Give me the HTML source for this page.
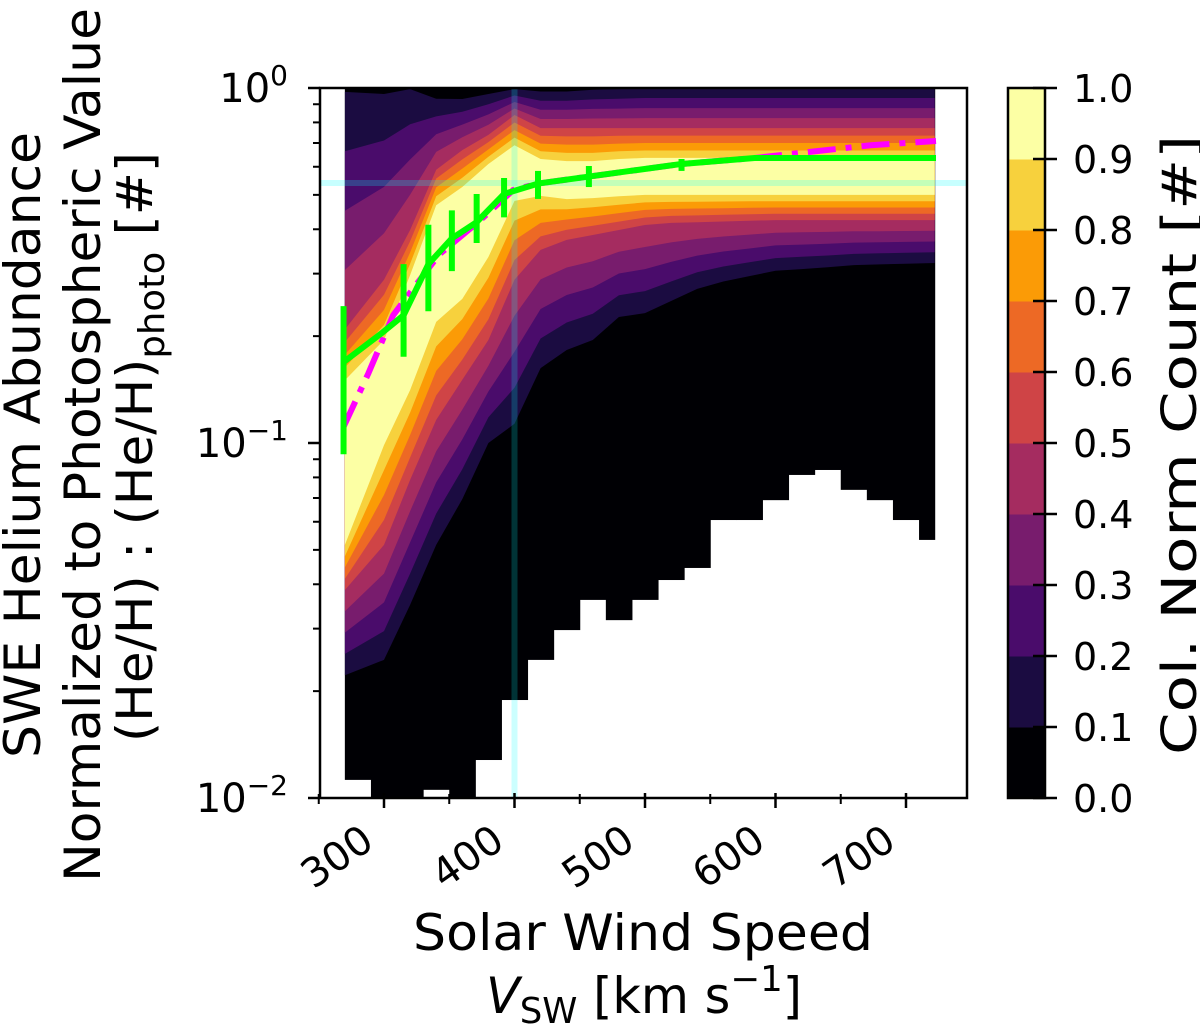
<!DOCTYPE html>
<html><head><meta charset="utf-8"><style>
html,body{margin:0;padding:0;background:#fff;}
svg{display:block;}
text{font-family:"DejaVu Sans","Liberation Sans",sans-serif;}
.lab{font-family:"DejaVu Sans Condensed","DejaVu Sans","Liberation Sans",sans-serif;}
</style></head><body>
<svg id="chart" width="1200" height="1026" viewBox="0 0 1200 1026" xmlns="http://www.w3.org/2000/svg">
<g id="plot"></g>
<g id="axes"></g>
<g id="cbar"></g>
<g class="lab" font-size="50">
<text class="lab" transform="translate(40,445) rotate(-90)" text-anchor="middle" textLength="626" lengthAdjust="spacingAndGlyphs">SWE Helium Abundance</text>
<text class="lab" transform="translate(100,445) rotate(-90)" text-anchor="middle" textLength="874" lengthAdjust="spacingAndGlyphs">Normalized to Photospheric Value</text>
<text class="lab" transform="translate(152,447) rotate(-90)" text-anchor="middle" font-size="50" textLength="590" lengthAdjust="spacingAndGlyphs">(He/H) : (He/H)<tspan font-size="36" dy="12">photo</tspan><tspan dy="-12"> [#]</tspan></text>
</g>
<g font-size="50">
<text class="lab" x="643" y="950" text-anchor="middle" textLength="460" lengthAdjust="spacingAndGlyphs">Solar Wind Speed</text>
<text class="lab" x="644" y="1013" text-anchor="middle" font-size="50" textLength="316" lengthAdjust="spacingAndGlyphs"><tspan font-style="italic">V</tspan><tspan font-size="36" dy="10">SW</tspan><tspan dy="-10"> [km s</tspan><tspan font-size="36" dy="-22">−1</tspan><tspan dy="22">]</tspan></text>
</g>
<text class="lab" transform="translate(1196,445) rotate(-90)" text-anchor="middle" font-size="48" textLength="620" lengthAdjust="spacingAndGlyphs">Col. Norm Count [#]</text>
</svg>
<script>
// ---- data ----
const speeds = [280,300,320,340,360,380,400,420,440,460,480,500,520,540,560,580,600,620,640,660,680,700,720];
const hi1 = [-0.011,-0.017,-0.003,-0.03,-0.031,-0.017,-0.003,-0.01,-0.01,-0.005,-0.003,0,0,0,0,0,0,0,0,0,0,0,0];
const hi5 = [-0.68,-0.54,-0.40,-0.23,-0.175,-0.132,-0.076,-0.113,-0.113,-0.113,-0.113,-0.113,-0.113,-0.113,-0.113,-0.113,-0.113,-0.113,-0.113,-0.113,-0.113,-0.113,-0.113];
const hi9 = [-0.823,-0.710,-0.527,-0.330,-0.279,-0.214,-0.161,-0.200,-0.206,-0.206,-0.200,-0.197,-0.197,-0.197,-0.197,-0.197,-0.197,-0.197,-0.197,-0.197,-0.197,-0.197,-0.197];
const lo9 = [-1.287,-1.006,-0.851,-0.659,-0.594,-0.476,-0.318,-0.304,-0.313,-0.310,-0.305,-0.301,-0.301,-0.301,-0.301,-0.301,-0.301,-0.301,-0.301,-0.301,-0.301,-0.301,-0.301];
const lo5 = [-1.414,-1.287,-1.104,-0.935,-0.822,-0.71,-0.54,-0.456,-0.428,-0.414,-0.4,-0.386,-0.38,-0.378,-0.376,-0.374,-0.372,-0.372,-0.372,-0.372,-0.372,-0.372,-0.372];
const lo1 = [-1.654,-1.611,-1.456,-1.287,-1.158,-1.0,-0.946,-0.789,-0.738,-0.710,-0.645,-0.634,-0.60,-0.566,-0.545,-0.53,-0.515,-0.51,-0.505,-0.499,-0.497,-0.495,-0.493];
const dataLo = [-1.949,-2,-2,-1.977,-2,-1.893,-1.724,-1.611,-1.527,-1.442,-1.499,-1.442,-1.386,-1.352,-1.217,-1.217,-1.161,-1.090,-1.076,-1.132,-1.161,-1.217,-1.273];
const medSpeed = [269,299,315,334,352,371,392,418,457,528,584,723];
const medVal = [0.169,0.205,0.229,0.319,0.377,0.419,0.503,0.538,0.563,0.611,0.635,0.635];
const errLow = [0.093,null,0.175,0.235,0.305,0.366,0.432,0.487,0.526,0.584,null,null];
const errHigh = [0.243,null,0.319,0.412,0.452,0.503,0.558,0.584,0.603,0.631,null,null];
const fitSpeed = [269,288,307,342,374,399,418,457,528,584,673,723];
const fitVal = [0.111,0.157,0.229,0.339,0.425,0.516,0.538,0.563,0.611,0.635,0.69,0.709];
const xTicks = [300,400,500,600,700];
const xMinor = [250,350,450,550,650,750];
const yTicks = [0,-1,-2];
const cbTicks = ["0.0","0.1","0.2","0.3","0.4","0.5","0.6","0.7","0.8","0.9","1.0"];
const levelColors = ["#000004","#1b0c41","#4a0c6b","#781c6d","#a52c60","#cf4446","#ed6925","#fb9b06","#f7d13d","#fcffa4"];
const refSpeed = 400, refVal = 0.54;
// ---- axes ----
const NS='http://www.w3.org/2000/svg';
const X0=320,X1=967,Y0=88,Y1=798;
const xs = s => 384 + (s-300)*1.305;
const yl = L => Y0 - L*(Y1-Y0)/2;
const yv = v => yl(Math.log10(v));
function mk(tag, attrs, parent){const e=document.createElementNS(NS,tag);for(const k in attrs)e.setAttribute(k,attrs[k]);parent.appendChild(e);return e;}
const plot=document.getElementById('plot'), axes=document.getElementById('axes'), cbar=document.getElementById('cbar');
const edgeL=270, edgeR=722;
const colX = speeds.map(s=>xs(Math.min(Math.max(s,edgeL),edgeR)));
speeds.forEach((s,i)=>{
  const a=xs(Math.max(s-10,edgeL)), b=xs(Math.min(s+10,edgeR));
  const r=mk('rect',{x:a,y:Y0,width:b-a+0.5,height:yl(dataLo[i])-Y0,fill:levelColors[0]},plot);
  
  
});
const xsL = [xs(edgeL)].concat(colX.slice(1,-1)).concat([xs(edgeR)]);
function interp(a,m,b,k){
  return k<=5 ? a+(m-a)*(k-1)/4 : m+(b-m)*(k-5)/4;
}
for(let k=1;k<=9;k++){
  const up=[],dn=[];
  speeds.forEach((s,i)=>{
    up.push([xsL[i], yl(interp(hi1[i],hi5[i],hi9[i],k))]);
    dn.push([xsL[i], yl(interp(lo1[i],lo5[i],lo9[i],k))]);
  });
  const pts=up.concat(dn.reverse()).map(p=>p[0].toFixed(1)+','+p[1].toFixed(1)).join(' ');
  const pg=mk('polygon',{points:pts,fill:levelColors[k]},plot);
  
  
}
const vl=mk('rect',{x:xs(refSpeed)-3,y:Y0,width:6,height:Y1-Y0,fill:'rgba(0,255,255,0.2)'},plot);


const hl=mk('rect',{x:X0,y:yv(refVal)-3,width:X1-X0,height:6,fill:'rgba(0,255,255,0.22)'},plot);


const fp=mk('polyline',{points:fitSpeed.map((s,i)=>xs(s)+','+yv(fitVal[i])).join(' '),fill:'none',stroke:'#ff00ff','stroke-width':6,'stroke-dasharray':'28 10 6 10'},plot);


const gp=mk('polyline',{points:medSpeed.map((s,i)=>xs(s)+','+yv(medVal[i])).join(' '),fill:'none',stroke:'#00ff00','stroke-width':6,'stroke-linejoin':'round'},plot);


medSpeed.forEach((s,i)=>{ if(errLow[i]==null) return;
  const e=mk('line',{x1:xs(s),x2:xs(s),y1:yv(errLow[i]),y2:yv(errHigh[i]),stroke:'#00ff00','stroke-width':6},plot);
  
  
});
const fr=mk('rect',{x:X0,y:Y0,width:X1-X0,height:Y1-Y0,fill:'none',stroke:'#000','stroke-width':2.5},axes);


xTicks.forEach(t=>{
  const x=xs(t);
  mk('line',{x1:x,x2:x,y1:Y1-5,y2:Y1+10,stroke:'#000','stroke-width':2.5},axes);
  const tx=mk('text',{transform:`translate(${x-8},846) rotate(-35)`,'text-anchor':'end','font-size':40},axes);
  tx.textContent=t;
  
  
});
xMinor.forEach(t=>{const x=xs(t); if(x<X0-2||x>X1+2) return; mk('line',{x1:x,x2:x,y1:Y1-4,y2:Y1+6,stroke:'#000','stroke-width':2},axes);});
yTicks.forEach(L=>{
  const y=yl(L);
  mk('line',{x1:X0-12,x2:X0,y1:y,y2:y,stroke:'#000','stroke-width':2.5},axes);
  const tx=mk('text',{x:288,y:y+14,'text-anchor':'end','font-size':40},axes);
  tx.innerHTML='10<tspan font-size="28" dy="-17">'+(L===0?'0':'−'+(-L))+'</tspan>';
  
  
});
[-2,-1].forEach(d=>{for(let m=2;m<=9;m++){const y=yl(d+Math.log10(m));mk('line',{x1:X0-7,x2:X0,y1:y,y2:y,stroke:'#000','stroke-width':2},axes);}});
const CX=1008,CW=37;
for(let k=0;k<10;k++){
  const ya=Y1-(k+1)*(Y1-Y0)/10;
  const r=mk('rect',{x:CX,y:ya,width:CW,height:(Y1-Y0)/10+0.5,fill:levelColors[k]},cbar);
  
  
}
mk('rect',{x:CX,y:Y0,width:CW,height:Y1-Y0,fill:'none',stroke:'#000','stroke-width':2.5},cbar);
cbTicks.forEach((t,i)=>{
  const y=Y1-i*(Y1-Y0)/10;
  mk('line',{x1:CX+CW-12,x2:CX+CW+12,y1:y,y2:y,stroke:'#000','stroke-width':2.5},cbar);
  const tx=mk('text',{x:1073,y:y+14,'font-size':38},cbar);
  tx.textContent=t;
  
  
});
</script>
</body></html>
